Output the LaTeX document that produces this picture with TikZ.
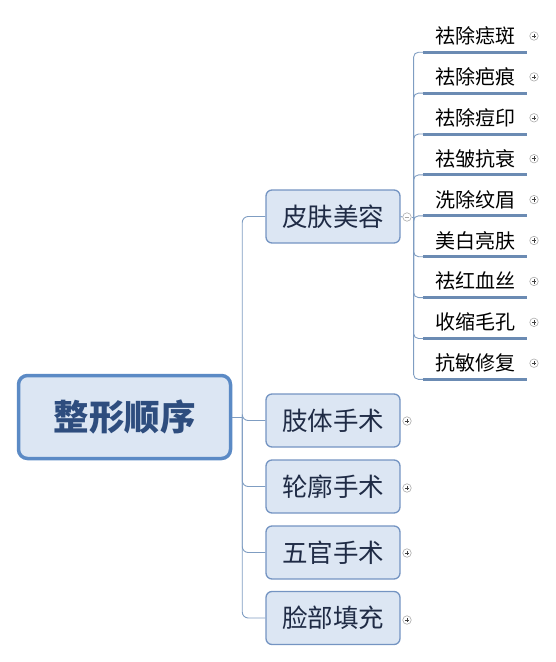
\documentclass[tikz,border=0pt]{standalone}
\usepackage{fontspec}
\newfontfamily\cjk{Noto Sans CJK SC}
\definecolor{boxfill}{HTML}{DCE6F3}
\definecolor{rootline}{HTML}{5B8AC5}
\definecolor{boxline}{HTML}{7494C2}
\definecolor{roottext}{HTML}{2E4D7E}
\definecolor{boxtext}{HTML}{1F2B45}
\definecolor{linkcol}{HTML}{7F9DC2}
\definecolor{barcol}{HTML}{6B8BB3}
\tikzset{
  root/.style={draw=rootline,line width=3.5pt,fill=boxfill,rounded corners=9pt,
    minimum width=212pt,minimum height=83pt,font=\cjk\bfseries\fontsize{35.5}{35.5}\selectfont,text=roottext},
  topic/.style={draw=boxline,line width=1.3pt,fill=boxfill,rounded corners=6pt,
    minimum width=134pt,minimum height=53pt,font=\cjk\fontsize{25.5}{25.5}\selectfont,text=boxtext},
  item/.style={minimum width=104pt,minimum height=32pt,inner sep=0pt,font=\cjk\fontsize{20}{20}\selectfont},
  bar/.style={draw=barcol,line width=3pt},
  link/.style={draw=linkcol,line width=0.9pt,rounded corners=6pt},
  knob/.style={circle,draw=gray!65,line width=0.6pt,minimum size=8.5pt,inner sep=0pt,fill=white},
  plus/.style={knob,path picture={\draw[black!75,line width=0.6pt]
    ([xshift=2pt]path picture bounding box.west) -- ([xshift=-2pt]path picture bounding box.east)
    ([yshift=-2pt]path picture bounding box.north) -- ([yshift=2pt]path picture bounding box.south);}},
  minus/.style={knob,path picture={\draw[gray!70,line width=0.6pt]
    ([xshift=2pt]path picture bounding box.west) -- ([xshift=-2pt]path picture bounding box.east);}},
}
\begin{document}
\begin{tikzpicture}[x=1pt,y=-1pt]
\useasboundingbox (0,0) rectangle (555,662);

% root
\node[root] (order) at (124.5,417) {整形顺序};

% first level
\node[topic] (skin) at (333,216.5) {皮肤美容};
\node[topic] (limb) at (333,420.5) {肢体手术};
\node[topic] (contour) at (333,486.5) {轮廓手术};
\node[topic] (senses) at (333,552.5) {五官手术};
\node[topic] (fill) at (333,618) {脸部填充};

\coordinate (rootfork) at ([xshift=10pt]order.east);
\draw[link] (order.east) -- (rootfork);
\foreach \t in {skin,limb,contour,senses,fill}
  \draw[link] (rootfork) |- (\t.west);

\node[minus] (skinknob) at (407,217) {};
\node[plus] at (407,421) {};
\node[plus] at (407,488) {};
\node[plus] at (407,553) {};
\node[plus] at (407,620) {};
\draw[link] (skin.east) -- (skinknob.west);

% second level
\coordinate (skinfork) at ([xshift=2pt]skinknob.east);
\draw[link] (skinknob.east) -- (skinfork);
\foreach \txt [count=\i from 0] in {祛除痣斑,祛除疤痕,祛除痘印,祛皱抗衰,洗除纹眉,美白亮肤,祛红血丝,收缩毛孔,抗敏修复}{
  \node[item] (s\i) at (475,{36+40.9*\i}) {\txt};
  \draw[link,rounded corners=5pt] (skinfork) |- (s\i.south west);
  \draw[bar] (s\i.south west) -- (s\i.south east);
  \node[plus] at (534,{36+40.9*\i}) {};
}

\end{tikzpicture}
\end{document}
